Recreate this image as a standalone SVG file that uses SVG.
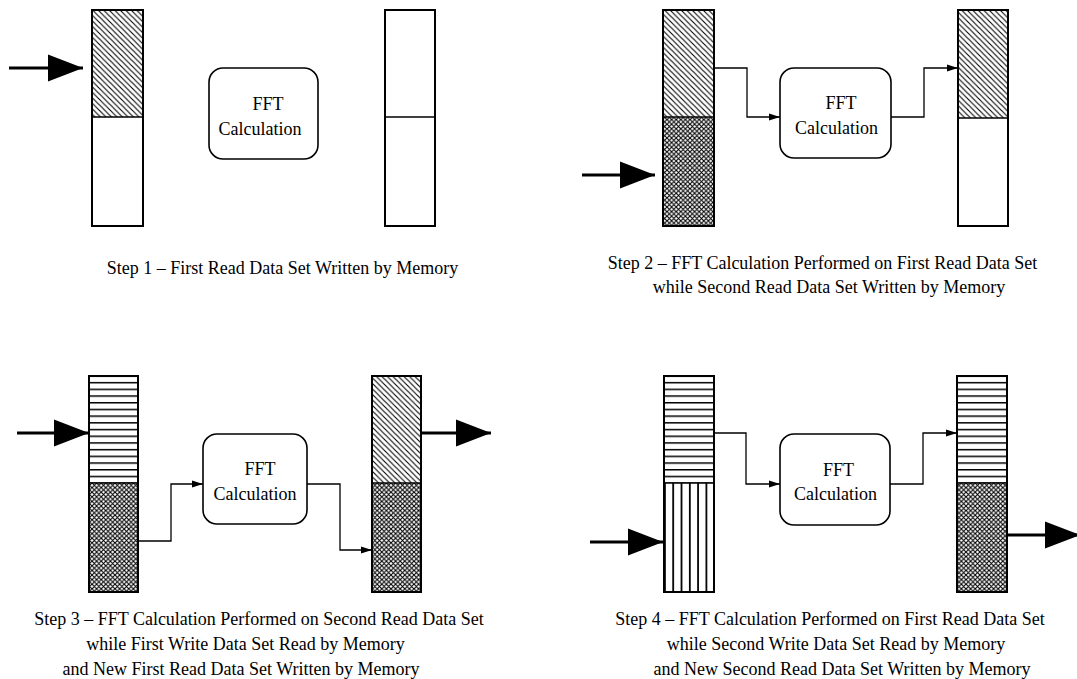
<svg xmlns="http://www.w3.org/2000/svg" width="1077" height="679" viewBox="0 0 1077 679">
  <defs>
    <style>
      .col { fill: none; stroke: #000; stroke-width: 2; }
      .split { stroke: #000; stroke-width: 1.6; }
      .box { fill: #fff; stroke: #000; stroke-width: 1.6; }
      .conn { fill: none; stroke: #000; stroke-width: 1.3; marker-end: url(#tip); }
      .feed { fill: none; stroke: #000; stroke-width: 3; marker-end: url(#bigtip); }
      text { font-family: "Liberation Serif", serif; font-size: 18px; fill: #000; }
      .mid { text-anchor: middle; }
    </style>
    <!-- diagonal hatch: data set held for the FFT -->
    <pattern id="diag" patternUnits="userSpaceOnUse" width="5.5" height="5.5">
      <rect width="5.5" height="5.5" fill="#fff"/>
      <path d="M-1,-1 L6.5,6.5 M-1,4.5 L1,6.5 M4.5,-1 L6.5,1" stroke="#000" stroke-width="1.1"/>
    </pattern>
    <!-- cross hatch -->
    <pattern id="cross" patternUnits="userSpaceOnUse" width="4.6" height="4.6">
      <rect width="4.6" height="4.6" fill="#fff"/>
      <path d="M0,0 L4.6,4.6 M4.6,0 L0,4.6" stroke="#000" stroke-width="1.1"/>
    </pattern>
    <!-- horizontal rule fill -->
    <pattern id="hrule" patternUnits="userSpaceOnUse" width="10" height="6.7">
      <rect width="10" height="6.7" fill="#fff"/>
      <line x1="0" y1="0.75" x2="10" y2="0.75" stroke="#000" stroke-width="1.5"/>
    </pattern>
    <!-- vertical rule fill -->
    <pattern id="vrule" patternUnits="userSpaceOnUse" width="8.3" height="10" x="664">
      <rect width="8.3" height="10" fill="#fff"/>
      <line x1="0.9" y1="0" x2="0.9" y2="10" stroke="#000" stroke-width="1.8"/>
    </pattern>
    <marker id="tip" markerUnits="userSpaceOnUse" markerWidth="12" markerHeight="8" refX="11" refY="4" orient="auto">
      <path d="M0,0.5 L11,4 L0,7.5 z" fill="#000"/>
    </marker>
    <marker id="bigtip" markerUnits="userSpaceOnUse" markerWidth="36" markerHeight="28" refX="35" refY="14" orient="auto">
      <path d="M0,0.5 L35,14 L0,27.5 z" fill="#000"/>
    </marker>
  </defs>

  <rect width="1077" height="679" fill="#fff"/>

  <!-- ===== Step 1 ===== -->
  <g id="s1-in-buffer">
    <rect x="92" y="10" width="51" height="107" fill="url(#diag)"/>
    <rect class="col" x="92" y="10" width="51" height="216"/>
    <line class="split" x1="92" y1="117" x2="143" y2="117"/>
  </g>
  <g id="s1-fft">
    <rect class="box" x="209" y="68" width="109" height="91" rx="14"/>
    <text class="mid" x="268" y="110">FFT</text>
    <text class="mid" x="260" y="135">Calculation</text>
  </g>
  <g id="s1-out-buffer">
    <rect class="col" x="385" y="10" width="50" height="216"/>
    <line class="split" x1="385" y1="117" x2="435" y2="117"/>
  </g>
  <text id="s1-caption" class="mid" x="282.5" y="274">Step 1 – First Read Data Set Written by Memory</text>

  <!-- ===== Step 2 ===== -->
  <g id="s2-in-buffer">
    <rect x="663" y="10" width="51" height="107" fill="url(#diag)"/>
    <rect x="663" y="117" width="51" height="109" fill="url(#cross)"/>
    <rect class="col" x="663" y="10" width="51" height="216"/>
    <line class="split" x1="663" y1="117" x2="714" y2="117"/>
  </g>
  <g id="s2-fft">
    <rect class="box" x="780" y="68" width="111" height="90" rx="14"/>
    <text class="mid" x="841" y="109">FFT</text>
    <text class="mid" x="836.5" y="134">Calculation</text>
  </g>
  <g id="s2-out-buffer">
    <rect x="958" y="10" width="50" height="108" fill="url(#diag)"/>
    <rect class="col" x="958" y="10" width="50" height="216"/>
    <line class="split" x1="958" y1="118" x2="1008" y2="118"/>
  </g>
  <g id="s2-caption">
    <text class="mid" x="822.5" y="269">Step 2 – FFT Calculation Performed on First Read Data Set</text>
    <text class="mid" x="829" y="293">while Second Read Data Set Written by Memory</text>
  </g>

  <!-- ===== Step 3 ===== -->
  <g id="s3-in-buffer">
    <rect x="89" y="376" width="49" height="107" fill="url(#hrule)"/>
    <rect x="89" y="483" width="49" height="109" fill="url(#cross)"/>
    <rect class="col" x="89" y="376" width="49" height="216"/>
    <line class="split" x1="89" y1="483" x2="138" y2="483"/>
  </g>
  <g id="s3-fft">
    <rect class="box" x="203" y="434" width="104" height="90" rx="14"/>
    <text class="mid" x="260" y="475">FFT</text>
    <text class="mid" x="255" y="500">Calculation</text>
  </g>
  <g id="s3-out-buffer">
    <rect x="372" y="376" width="49" height="107" fill="url(#diag)"/>
    <rect x="372" y="483" width="49" height="109" fill="url(#cross)"/>
    <rect class="col" x="372" y="376" width="49" height="216"/>
    <line class="split" x1="372" y1="483" x2="421" y2="483"/>
  </g>
  <g id="s3-caption">
    <text class="mid" x="259" y="625">Step 3 – FFT Calculation Performed on Second Read Data Set</text>
    <text class="mid" x="245.5" y="650">while First Write Data Set Read by Memory</text>
    <text class="mid" x="241" y="675">and New First Read Data Set Written by Memory</text>
  </g>

  <!-- ===== Step 4 ===== -->
  <g id="s4-in-buffer">
    <rect x="664" y="376" width="50" height="107" fill="url(#hrule)"/>
    <rect x="664" y="483" width="50" height="109" fill="url(#vrule)"/>
    <rect class="col" x="664" y="376" width="50" height="216"/>
    <line class="split" x1="664" y1="483" x2="714" y2="483"/>
  </g>
  <g id="s4-fft">
    <rect class="box" x="780" y="434" width="110" height="91" rx="14"/>
    <text class="mid" x="838.5" y="476">FFT</text>
    <text class="mid" x="835.5" y="500">Calculation</text>
  </g>
  <g id="s4-out-buffer">
    <rect x="957" y="376" width="50" height="107" fill="url(#hrule)"/>
    <rect x="957" y="483" width="50" height="109" fill="url(#cross)"/>
    <rect class="col" x="957" y="376" width="50" height="216"/>
    <line class="split" x1="957" y1="483" x2="1007" y2="483"/>
  </g>
  <g id="s4-caption">
    <text class="mid" x="830" y="625">Step 4 – FFT Calculation Performed on First Read Data Set</text>
    <text class="mid" x="836" y="650">while Second Write Data Set Read by Memory</text>
    <text class="mid" x="842" y="675">and New Second Read Data Set Written by Memory</text>
  </g>

  <!-- ===== connectors ===== -->
  <g id="connectors">
    <!-- memory write / read arrows -->
    <line class="feed" x1="9" y1="68" x2="83" y2="68"/>
    <line class="feed" x1="582" y1="175" x2="655" y2="175"/>
    <line class="feed" x1="17" y1="433" x2="89" y2="433"/>
    <line class="feed" x1="421" y1="433" x2="491" y2="433"/>
    <line class="feed" x1="590" y1="542" x2="663" y2="542"/>
    <line class="feed" x1="1007" y1="535" x2="1080" y2="535"/>
    <!-- data paths through the FFT -->
    <path class="conn" d="M714,68 H747 V117 H780"/>
    <path class="conn" d="M891,117 H924 V68 H958"/>
    <path class="conn" d="M138,541 H171 V484 H203"/>
    <path class="conn" d="M307,484 H340 V550 H372"/>
    <path class="conn" d="M714,433 H746 V484 H780"/>
    <path class="conn" d="M890,484 H923 V433 H957"/>
  </g>
</svg>
